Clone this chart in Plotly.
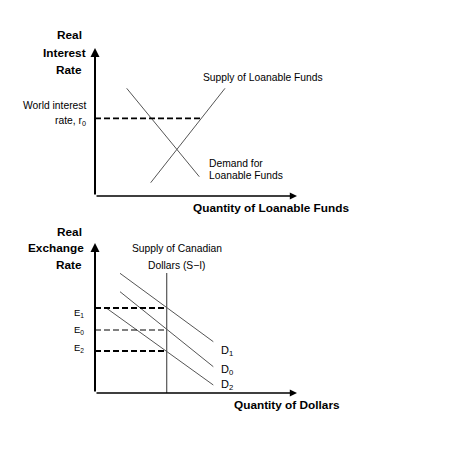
import plotly.graph_objects as go

# top panel: loanable funds market (units = px from the origin)
supply_lf_x = [55.7, 130]
supply_lf_y = [13.3, 107.7]
demand_lf_x = [31.7, 104.3]
demand_lf_y = [107.7, 19.3]
world_rate = 77.7
world_rate_end = 106.4

# bottom panel: market for Canadian dollars
s_minus_i_x = [71.7, 71.7]
s_minus_i_y = [0, 120]
d1_x = [25, 118.3]
d1_y = [119.7, 51.3]
d0_x = [25, 118.3]
d0_y = [101.3, 26.3]
d2_x = [11.7, 118.3]
d2_y = [84.7, 8]
e_levels = {"E1": 85, "E0": 63, "E2": 42}

axis_len_x = 202
axis_len_y_top = 148
axis_len_y_bot = 150

GRAY = "#555555"
FONT = "Liberation Sans"
REG = 10.3
BOLD = 11.8

fig = go.Figure()

fig.add_trace(go.Scatter(x=supply_lf_x, y=supply_lf_y, mode="lines",
                         line=dict(color=GRAY, width=1), xaxis="x", yaxis="y"))
fig.add_trace(go.Scatter(x=demand_lf_x, y=demand_lf_y, mode="lines",
                         line=dict(color=GRAY, width=1), xaxis="x", yaxis="y"))
fig.add_trace(go.Scatter(x=[0, world_rate_end], y=[world_rate, world_rate], mode="lines",
                         line=dict(color="black", width=1.8, dash="6px,3px"), xaxis="x", yaxis="y"))

fig.add_trace(go.Scatter(x=s_minus_i_x, y=s_minus_i_y, mode="lines",
                         line=dict(color=GRAY, width=1.2), xaxis="x2", yaxis="y2"))
for xs, ys in [(d1_x, d1_y), (d0_x, d0_y), (d2_x, d2_y)]:
    fig.add_trace(go.Scatter(x=xs, y=ys, mode="lines",
                             line=dict(color=GRAY, width=1), xaxis="x2", yaxis="y2"))
for name, lvl in e_levels.items():
    w = 1 if name == "E0" else 1.8
    fig.add_trace(go.Scatter(x=[0, s_minus_i_x[0]], y=[lvl, lvl], mode="lines",
                             line=dict(color="black", width=w, dash="6px,3px"),
                             xaxis="x2", yaxis="y2"))

ann = []


def arrow(xr, yr, x, y, w):
    ann.append(dict(x=x, y=y, ax=0, ay=0, xref=xr, yref=yr, axref=xr, ayref=yr,
                    text="", showarrow=True, arrowhead=2, arrowsize=0.9,
                    arrowwidth=w, arrowcolor="black"))


arrow("x", "y", 0, axis_len_y_top, 2)
arrow("x", "y", axis_len_x, 0, 1.6)
arrow("x2", "y2", 0, axis_len_y_bot, 2)
arrow("x2", "y2", axis_len_x, 0, 1.6)


def label(xr, yr, x, y, text, anchor="left", bold=False, size=REG):
    ann.append(dict(x=x, y=y, xref=xr, yref=yr, text=f"<b>{text}</b>" if bold else text,
                    showarrow=False, xanchor=anchor, yanchor="middle",
                    font=dict(family=FONT, size=size, color="black")))


label("x", "y", -11, 161, "Real", "right", True, BOLD)
label("x", "y", -7, 143, "Interest", "right", True, BOLD)
label("x", "y", -11, 126, "Rate", "right", True, BOLD)
label("x", "y", 106, 119, "Supply of Loanable Funds")
label("x", "y", -7, 91, "World interest", "right")
label("x", "y", -7, 75, "rate, r<sub>0</sub>", "right")
label("x", "y", 112, 33, "Demand for")
label("x", "y", 112, 21, "Loanable Funds")
label("x", "y", 96, -12, "Quantity of Loanable Funds", "left", True, BOLD)

label("x2", "y2", -11, 161, "Real", "right", True, BOLD)
label("x2", "y2", -9, 145, "Exchange", "right", True, BOLD)
label("x2", "y2", -11, 128, "Rate", "right", True, BOLD)
label("x2", "y2", 82, 145, "Supply of Canadian", "center")
label("x2", "y2", 82, 128, "Dollars (S\u2212I)", "center")
label("x2", "y2", -9, 80, "E<sub>1</sub>", "right", size=9.5)
label("x2", "y2", -9, 63, "E<sub>0</sub>", "right", size=9.5)
label("x2", "y2", -9, 45, "E<sub>2</sub>", "right", size=9.5)
label("x2", "y2", 124, 42, "D<sub>1</sub>", size=11)
label("x2", "y2", 124, 23, "D<sub>0</sub>", size=11)
label("x2", "y2", 124, 8, "D<sub>2</sub>", size=11)
label("x2", "y2", 137, -12, "Quantity of Dollars", "left", True, BOLD)

# page body adds 8px around the plot, so the figure is 16px smaller than the window
W, H = 439, 436
hidden = dict(visible=False, showgrid=False, zeroline=False, fixedrange=True)
fig.update_layout(
    width=W, height=H, margin=dict(l=0, r=0, t=0, b=0),
    paper_bgcolor="white", plot_bgcolor="white", showlegend=False,
    xaxis=dict(domain=[0, 1], range=[-87, W - 87], **hidden),
    yaxis=dict(domain=[1 - 218 / H, 1], range=[-30, 188], **hidden),
    xaxis2=dict(domain=[0, 1], range=[-87, W - 87], anchor="y2", **hidden),
    yaxis2=dict(domain=[0, 218 / H], range=[-51, 167], anchor="x2", **hidden),
    annotations=ann,
)

fig.write_html("out.html")
